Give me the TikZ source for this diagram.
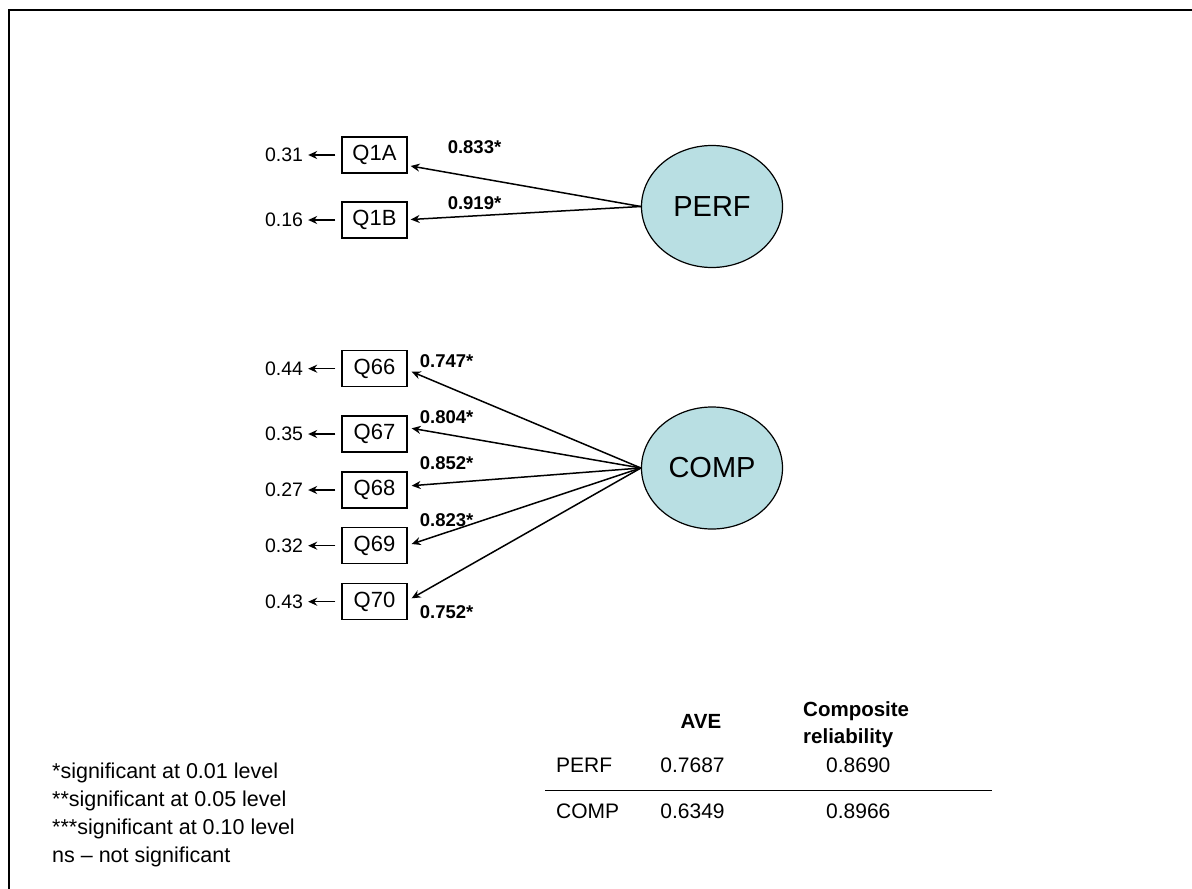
\documentclass[tikz,border=0pt]{standalone}
\usepackage{fontspec}
\setmainfont{Liberation Sans}
\usetikzlibrary{shapes.geometric,arrows.meta}
\definecolor{latentfill}{RGB}{185,223,227}
\begin{document}
\begin{tikzpicture}[x=1bp,y=-1bp,
  ind/.style={draw,line width=1.3bp,minimum width=65bp,minimum height=36bp,inner sep=0pt,font=\fontsize{22bp}{26bp}\selectfont},
  lat/.style={ellipse,draw,line width=1.2bp,fill=latentfill,minimum width=141bp,minimum height=122bp,inner sep=0pt,font=\fontsize{29bp}{34bp}\selectfont},
  err/.style={font=\fontsize{19.5bp}{23bp}\selectfont,inner sep=0pt},
  load/.style={font=\fontsize{18.5bp}{22bp}\selectfont\bfseries,inner sep=0pt},
  arr/.style={line width=1.5bp,-{Stealth[length=9bp,width=8bp]}},
  errarr/.style={line width=1.5bp,-{Stealth[length=9bp,width=8bp]},shorten >=5bp},
  legend/.style={font=\fontsize{21.5bp}{26bp}\selectfont,inner sep=0pt,anchor=west},
  tab/.style={font=\fontsize{21bp}{26bp}\selectfont,inner sep=0pt},
  tabhead/.style={font=\fontsize{20.5bp}{27.6bp}\selectfont\bfseries,inner sep=0pt}]
\useasboundingbox (0,0) rectangle (1192,889);
\draw[line width=2.7bp] (9,889) -- (9,10) -- (1192,10);

% latent variables
\node[lat] (perf) at (712,206.5) {PERF};
\node[lat] (comp) at (712,468) {COMP};

% indicators
\node[ind] (q1a) at (374.5,155) {Q1A};
\node[ind] (q1b) at (374.5,220) {Q1B};
\node[ind] (q66) at (374.5,368.7) {Q66};
\node[ind] (q67) at (374.5,434) {Q67};
\node[ind] (q68) at (374.5,490) {Q68};
\node[ind] (q69) at (374.5,545.7) {Q69};
\node[ind] (q70) at (374.5,601.7) {Q70};

% error terms
\node[err] (e1a) at (284,155) {0.31};
\node[err] (e1b) at (284,220) {0.16};
\node[err] (e66) at (284,368.7) {0.44};
\node[err] (e67) at (284,434) {0.35};
\node[err] (e68) at (284,490) {0.27};
\node[err] (e69) at (284,545.7) {0.32};
\node[err] (e70) at (284,601.7) {0.43};

\foreach \q/\e in {q1a/e1a,q1b/e1b,q66/e66,q67/e67,q68/e68,q69/e69,q70/e70}
  \draw[errarr] ([xshift=-6bp]\q.west) -- (\e.east);

% loadings
\draw[arr] (perf.west) -- ([xshift=3bp,yshift=-11bp]q1a.east);
\draw[arr] (perf.west) -- ([xshift=3bp,yshift=0.5bp]q1b.east);
\draw[arr] (comp.west) -- ([xshift=4bp,yshift=-3bp]q66.east);
\draw[arr] (comp.west) -- ([xshift=4bp,yshift=5.7bp]q67.east);
\draw[arr] (comp.west) -- ([xshift=4bp,yshift=4.3bp]q68.east);
\draw[arr] (comp.west) -- ([xshift=4bp,yshift=1.7bp]q69.east);
\draw[arr] (comp.west) -- ([xshift=4bp,yshift=3.4bp]q70.east);

\node[load] (l1a) at (474.5,146.7) {0.833*};
\node[load] (l1b) at (474.5,202.7) {0.919*};
\node[load] (l66) at (446.7,361) {0.747*};
\node[load] (l67) at (446.7,417) {0.804*};
\node[load] (l68) at (446.7,463.3) {0.852*};
\node[load] (l69) at (446.7,520) {0.823*};
\node[load] (l70) at (446.7,611.7) {0.752*};

% legend
\node[legend] (n1) at (52,773) {*significant at 0.01 level};
\node[legend] (n2) at (52,801) {**significant at 0.05 level};
\node[legend] (n3) at (52,829) {***significant at 0.10 level};
\node[legend] (n4) at (52,857) {ns – not significant};

% table
\node[tabhead] (h1) at (701,721.7) {AVE};
\node[tabhead,align=left,anchor=west] (h2) at (803,724.5) {Composite\\reliability};
\node[tab,anchor=west] (r1) at (556,765) {PERF};
\node[tab] (r1a) at (692.5,765) {0.7687};
\node[tab] (r1b) at (858.3,765) {0.8690};
\node[tab,anchor=west] (r2) at (556,811.7) {COMP};
\node[tab] (r2a) at (692.5,811.7) {0.6349};
\node[tab] (r2b) at (858.3,811.7) {0.8966};
\coordinate (tl) at (545,790.7);
\coordinate (tr) at (991.7,790.7);
\draw[line width=1.2bp] (tl) -- (tr);
\end{tikzpicture}
\end{document}
